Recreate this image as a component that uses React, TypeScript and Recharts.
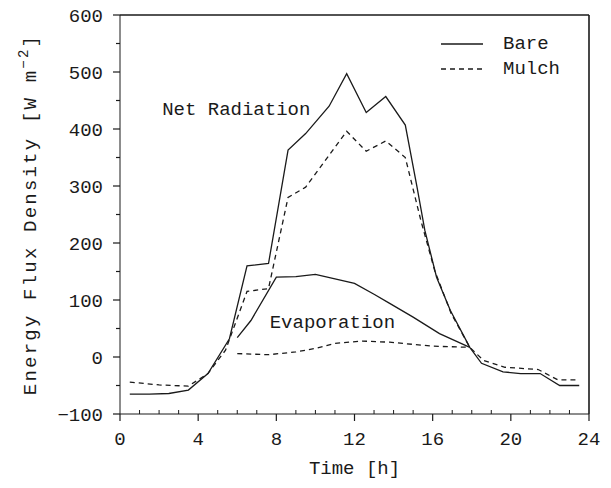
import { LineChart, Line, XAxis, YAxis, Legend, ReferenceDot, CartesianGrid } from 'recharts';

// hours and W m-2 values
const bareNetHours = [0.5, 1.5, 2.5, 3.5, 4.5, 5.6, 6.5, 7.6, 8.6, 9.5, 10.7, 11.6, 12.6, 13.6, 14.6, 15.2, 15.6, 16.2, 16.9, 17.9, 18.5, 19.6, 20.5, 21.5, 22.5, 23.5];
const bareNet = [-65, -65, -64, -58, -29, 32, 160, 164, 363, 392, 440, 497, 429, 457, 407, 298, 222, 140, 82, 17, -11, -26, -29, -29, -50, -50];

const mulchNetHours = [0.5, 2, 3.5, 4.5, 5.4, 6.5, 7.6, 8.6, 9.5, 11.6, 12.6, 13.6, 14.6, 15.4, 16.1, 16.95, 17.9, 18.6, 19.7, 21.4, 22.4, 23.5];
const mulchNet = [-44, -49, -51, -29, 12, 115, 120, 280, 298, 396, 361, 379, 350, 239, 152, 76, 17, -6, -18, -22, -40, -40];

const bareEvapHours = [6.0, 6.7, 8.0, 9.0, 10.0, 11.0, 12.0, 13.0, 13.8, 15.0, 16.35, 17.9];
const bareEvap = [34, 64, 140, 141, 145, 137, 129, 110, 94, 70, 41, 17];

const mulchEvapHours = [6.0, 7.6, 9.0, 10.0, 11.0, 12.4, 13.8, 16.0, 17.9];
const mulchEvap = [6, 4, 9, 15, 24, 28, 26, 19, 17];

const xTicks = [0, 1, 2, 3, 4, 5, 6, 7, 8, 9, 10, 11, 12, 13, 14, 15, 16, 17, 18, 19, 20, 21, 22, 23, 24];
const yTicks = [-100, -50, 0, 50, 100, 150, 200, 250, 300, 350, 400, 450, 500, 550, 600];

const toPoints = (hours: number[], vals: number[]) => hours.map((t, i) => ({ t, v: vals[i] }));

const FONT = '"Liberation Mono", monospace';
const INK = '#1a1a1a';

function XTick({ x, y, payload }: any) {
  const major = payload.value % 4 === 0;
  return (
    <g>
      {major ? (
        <line x1={x} x2={x} y1={y} y2={y + 7} stroke={INK} strokeWidth={1.2} />
      ) : (
        <line x1={x} x2={x} y1={y} y2={y - 4} stroke={INK} strokeWidth={1} />
      )}
      {major && (
        <text x={x} y={y + 31} textAnchor="middle" fontFamily={FONT} fontSize={19} fill={INK}>
          {payload.value}
        </text>
      )}
    </g>
  );
}

function YTick({ x, y, payload }: any) {
  const major = payload.value % 100 === 0;
  return (
    <g>
      <line x1={x} x2={x - (major ? 7 : 4)} y1={y} y2={y} stroke={INK} strokeWidth={1.2} />
      {major && (
        <text x={x - 17} y={y} dy="0.35em" textAnchor="end" fontFamily={FONT} fontSize={19} fill={INK}>
          {payload.value < 0 ? '\u2212' + Math.abs(payload.value) : payload.value}
        </text>
      )}
    </g>
  );
}

function YLabel({ viewBox }: any) {
  const cx = 29;
  const cy = viewBox.y + viewBox.height / 2;
  return (
    <text x={cx} y={cy} dy="0.35em" textAnchor="middle" letterSpacing={2.2} transform={`rotate(-90, ${cx}, ${cy})`} fontFamily={FONT} fontSize={19} fill={INK}>
      <tspan>Energy Flux Density [W m</tspan>
      <tspan dy={-8} fontSize={14}>{'\u22122'}</tspan>
      <tspan dy={8}>]</tspan>
    </text>
  );
}

function LegendBox({ payload }: any) {
  const items = (payload || []).filter((e: any) => e.value === 'Bare' || e.value === 'Mulch');
  return (
    <div style={{ fontFamily: FONT, fontSize: 19, color: INK }}>
      {items.map((e: any) => (
        <div key={e.value} style={{ display: 'flex', alignItems: 'center', height: 25 }}>
          <svg width={42} height={6}>
            <line x1={0} x2={42} y1={3} y2={3} stroke={INK} strokeWidth={1.3} strokeDasharray={e.value === 'Mulch' ? '5 4' : undefined} />
          </svg>
          <span style={{ marginLeft: 20 }}>{e.value}</span>
        </div>
      ))}
    </div>
  );
}

export default function App() {
  return (
    <div style={{ position: 'absolute', left: 0, top: 0, background: '#fff' }}>
      <LineChart width={611} height={488} margin={{ top: 14, right: 21, bottom: 0, left: 0 }}>
        {/* top and right sides of the frame */}
        <CartesianGrid horizontalValues={[600]} verticalValues={[24]} stroke={INK} strokeWidth={1.2} />
        <XAxis
          dataKey="t"
          type="number"
          domain={[0, 24]}
          ticks={xTicks}
          interval={0}
          height={74}
          tickSize={0}
          tickMargin={0}
          tickLine={false}
          tick={<XTick />}
          stroke={INK}
          allowDuplicatedCategory={false}
          label={{ value: 'Time [h]', position: 'insideBottom', offset: 14, fontFamily: FONT, fontSize: 19, fill: INK }}
        />
        <XAxis xAxisId="top" orientation="top" type="number" dataKey="t" domain={[0, 24]} height={1} tick={false} tickLine={false} stroke={INK} />
        <YAxis
          type="number"
          domain={[-100, 600]}
          ticks={yTicks}
          interval={0}
          width={120}
          tickSize={0}
          tickMargin={0}
          tickLine={false}
          tick={<YTick />}
          stroke={INK}
          label={<YLabel />}
        />
        <YAxis yAxisId="right" orientation="right" type="number" domain={[-100, 600]} width={1} tick={false} tickLine={false} stroke={INK} />
        <Legend layout="vertical" verticalAlign="middle" align="center" content={<LegendBox />} wrapperStyle={{ left: 441, top: 31, width: 150 }} />
        <Line data={toPoints(bareNetHours, bareNet)} dataKey="v" name="Bare" stroke={INK} strokeWidth={1.3} dot={false} isAnimationActive={false} />
        <Line data={toPoints(mulchNetHours, mulchNet)} dataKey="v" name="Mulch" stroke={INK} strokeWidth={1.3} strokeDasharray="5 4" dot={false} isAnimationActive={false} />
        <Line data={toPoints(bareEvapHours, bareEvap)} dataKey="v" name="Bare evaporation" legendType="none" stroke={INK} strokeWidth={1.3} dot={false} isAnimationActive={false} />
        <Line data={toPoints(mulchEvapHours, mulchEvap)} dataKey="v" name="Mulch evaporation" legendType="none" stroke={INK} strokeWidth={1.3} strokeDasharray="5 4" dot={false} isAnimationActive={false} />
        <ReferenceDot x={5.95} y={437} r={0} stroke="none" label={{ value: 'Net Radiation', position: 'center', fontFamily: FONT, fontSize: 19, fill: INK }} />
        <ReferenceDot x={10.87} y={62} r={0} stroke="none" label={{ value: 'Evaporation', position: 'center', fontFamily: FONT, fontSize: 19, fill: INK }} />
      </LineChart>
    </div>
  );
}
